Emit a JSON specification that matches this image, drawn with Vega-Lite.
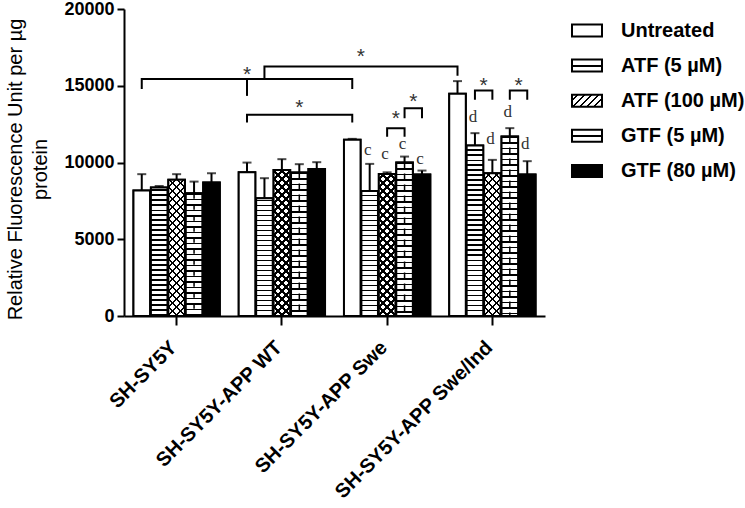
{
 "$schema": "https://vega.github.io/schema/vega-lite/v6.json",
 "width": 421, "height": 307,
 "autosize": {"type": "none"},
 "padding": {"left": 124, "top": 9, "right": 200, "bottom": 192},
 "background": "white",
 "config": {"view": {"stroke": null}},
 "params": [{"name": "st", "value": [
{"offset":0,"color":"#000"},{"offset":0.0075,"color":"#000"},{"offset":0.0075,"color":"#0000"},{"offset":0.025,"color":"#0000"},
{"offset":0.025,"color":"#000"},{"offset":0.0325,"color":"#000"},{"offset":0.0325,"color":"#0000"},{"offset":0.05,"color":"#0000"},
{"offset":0.05,"color":"#000"},{"offset":0.0575,"color":"#000"},{"offset":0.0575,"color":"#0000"},{"offset":0.075,"color":"#0000"},
{"offset":0.075,"color":"#000"},{"offset":0.0825,"color":"#000"},{"offset":0.0825,"color":"#0000"},{"offset":0.1,"color":"#0000"},
{"offset":0.1,"color":"#000"},{"offset":0.1075,"color":"#000"},{"offset":0.1075,"color":"#0000"},{"offset":0.125,"color":"#0000"},
{"offset":0.125,"color":"#000"},{"offset":0.1325,"color":"#000"},{"offset":0.1325,"color":"#0000"},{"offset":0.15,"color":"#0000"},
{"offset":0.15,"color":"#000"},{"offset":0.1575,"color":"#000"},{"offset":0.1575,"color":"#0000"},{"offset":0.175,"color":"#0000"},
{"offset":0.175,"color":"#000"},{"offset":0.1825,"color":"#000"},{"offset":0.1825,"color":"#0000"},{"offset":0.2,"color":"#0000"},
{"offset":0.2,"color":"#000"},{"offset":0.2075,"color":"#000"},{"offset":0.2075,"color":"#0000"},{"offset":0.225,"color":"#0000"},
{"offset":0.225,"color":"#000"},{"offset":0.2325,"color":"#000"},{"offset":0.2325,"color":"#0000"},{"offset":0.25,"color":"#0000"},
{"offset":0.25,"color":"#000"},{"offset":0.2575,"color":"#000"},{"offset":0.2575,"color":"#0000"},{"offset":0.275,"color":"#0000"},
{"offset":0.275,"color":"#000"},{"offset":0.2825,"color":"#000"},{"offset":0.2825,"color":"#0000"},{"offset":0.3,"color":"#0000"},
{"offset":0.3,"color":"#000"},{"offset":0.3075,"color":"#000"},{"offset":0.3075,"color":"#0000"},{"offset":0.325,"color":"#0000"},
{"offset":0.325,"color":"#000"},{"offset":0.3325,"color":"#000"},{"offset":0.3325,"color":"#0000"},{"offset":0.35,"color":"#0000"},
{"offset":0.35,"color":"#000"},{"offset":0.3575,"color":"#000"},{"offset":0.3575,"color":"#0000"},{"offset":0.375,"color":"#0000"},
{"offset":0.375,"color":"#000"},{"offset":0.3825,"color":"#000"},{"offset":0.3825,"color":"#0000"},{"offset":0.4,"color":"#0000"},
{"offset":0.4,"color":"#000"},{"offset":0.4075,"color":"#000"},{"offset":0.4075,"color":"#0000"},{"offset":0.425,"color":"#0000"},
{"offset":0.425,"color":"#000"},{"offset":0.4325,"color":"#000"},{"offset":0.4325,"color":"#0000"},{"offset":0.45,"color":"#0000"},
{"offset":0.45,"color":"#000"},{"offset":0.4575,"color":"#000"},{"offset":0.4575,"color":"#0000"},{"offset":0.475,"color":"#0000"},
{"offset":0.475,"color":"#000"},{"offset":0.4825,"color":"#000"},{"offset":0.4825,"color":"#0000"},{"offset":0.5,"color":"#0000"},
{"offset":0.5,"color":"#000"},{"offset":0.5075,"color":"#000"},{"offset":0.5075,"color":"#0000"},{"offset":0.525,"color":"#0000"},
{"offset":0.525,"color":"#000"},{"offset":0.5325,"color":"#000"},{"offset":0.5325,"color":"#0000"},{"offset":0.55,"color":"#0000"},
{"offset":0.55,"color":"#000"},{"offset":0.5575,"color":"#000"},{"offset":0.5575,"color":"#0000"},{"offset":0.575,"color":"#0000"},
{"offset":0.575,"color":"#000"},{"offset":0.5825,"color":"#000"},{"offset":0.5825,"color":"#0000"},{"offset":0.6,"color":"#0000"},
{"offset":0.6,"color":"#000"},{"offset":0.6075,"color":"#000"},{"offset":0.6075,"color":"#0000"},{"offset":0.625,"color":"#0000"},
{"offset":0.625,"color":"#000"},{"offset":0.6325,"color":"#000"},{"offset":0.6325,"color":"#0000"},{"offset":0.65,"color":"#0000"},
{"offset":0.65,"color":"#000"},{"offset":0.6575,"color":"#000"},{"offset":0.6575,"color":"#0000"},{"offset":0.675,"color":"#0000"},
{"offset":0.675,"color":"#000"},{"offset":0.6825,"color":"#000"},{"offset":0.6825,"color":"#0000"},{"offset":0.7,"color":"#0000"},
{"offset":0.7,"color":"#000"},{"offset":0.7075,"color":"#000"},{"offset":0.7075,"color":"#0000"},{"offset":0.725,"color":"#0000"},
{"offset":0.725,"color":"#000"},{"offset":0.7325,"color":"#000"},{"offset":0.7325,"color":"#0000"},{"offset":0.75,"color":"#0000"},
{"offset":0.75,"color":"#000"},{"offset":0.7575,"color":"#000"},{"offset":0.7575,"color":"#0000"},{"offset":0.775,"color":"#0000"},
{"offset":0.775,"color":"#000"},{"offset":0.7825,"color":"#000"},{"offset":0.7825,"color":"#0000"},{"offset":0.8,"color":"#0000"},
{"offset":0.8,"color":"#000"},{"offset":0.8075,"color":"#000"},{"offset":0.8075,"color":"#0000"},{"offset":0.825,"color":"#0000"},
{"offset":0.825,"color":"#000"},{"offset":0.8325,"color":"#000"},{"offset":0.8325,"color":"#0000"},{"offset":0.85,"color":"#0000"},
{"offset":0.85,"color":"#000"},{"offset":0.8575,"color":"#000"},{"offset":0.8575,"color":"#0000"},{"offset":0.875,"color":"#0000"},
{"offset":0.875,"color":"#000"},{"offset":0.8825,"color":"#000"},{"offset":0.8825,"color":"#0000"},{"offset":0.9,"color":"#0000"},
{"offset":0.9,"color":"#000"},{"offset":0.9075,"color":"#000"},{"offset":0.9075,"color":"#0000"},{"offset":0.925,"color":"#0000"},
{"offset":0.925,"color":"#000"},{"offset":0.9325,"color":"#000"},{"offset":0.9325,"color":"#0000"},{"offset":0.95,"color":"#0000"},
{"offset":0.95,"color":"#000"},{"offset":0.9575,"color":"#000"},{"offset":0.9575,"color":"#0000"},{"offset":0.975,"color":"#0000"},
{"offset":0.975,"color":"#000"},{"offset":0.9825,"color":"#000"},{"offset":0.9825,"color":"#0000"},{"offset":1,"color":"#0000"}
 ]}],
 "datasets": {
  "bars": [
   {"group":"SH-SY5Y","treatment":"Untreated","rfu":8170,"hi":9240},
   {"group":"SH-SY5Y","treatment":"ATF (5 µM)","rfu":8365,"hi":8470},
   {"group":"SH-SY5Y","treatment":"ATF (100 µM)","rfu":8870,"hi":9240},
   {"group":"SH-SY5Y","treatment":"GTF (5 µM)","rfu":8000,"hi":8756},
   {"group":"SH-SY5Y","treatment":"GTF (80 µM)","rfu":8690,"hi":9300},
   {"group":"SH-SY5Y-APP WT","treatment":"Untreated","rfu":9370,"hi":9995},
   {"group":"SH-SY5Y-APP WT","treatment":"ATF (5 µM)","rfu":7674,"hi":8978},
   {"group":"SH-SY5Y-APP WT","treatment":"ATF (100 µM)","rfu":9519,"hi":10217},
   {"group":"SH-SY5Y-APP WT","treatment":"GTF (5 µM)","rfu":9343,"hi":9891},
   {"group":"SH-SY5Y-APP WT","treatment":"GTF (80 µM)","rfu":9584,"hi":10021},
   {"group":"SH-SY5Y-APP Swe","treatment":"Untreated","rfu":11475,"hi":11540},
   {"group":"SH-SY5Y-APP Swe","treatment":"ATF (5 µM)","rfu":8150,"hi":9910},
   {"group":"SH-SY5Y-APP Swe","treatment":"ATF (100 µM)","rfu":9258,"hi":9360},
   {"group":"SH-SY5Y-APP Swe","treatment":"GTF (5 µM)","rfu":9995,"hi":10386},
   {"group":"SH-SY5Y-APP Swe","treatment":"GTF (80 µM)","rfu":9213,"hi":9474},
   {"group":"SH-SY5Y-APP Swe/Ind","treatment":"Untreated","rfu":14474,"hi":15302},
   {"group":"SH-SY5Y-APP Swe/Ind","treatment":"ATF (5 µM)","rfu":11104,"hi":11912},
   {"group":"SH-SY5Y-APP Swe/Ind","treatment":"ATF (100 µM)","rfu":9304,"hi":10171},
   {"group":"SH-SY5Y-APP Swe/Ind","treatment":"GTF (5 µM)","rfu":11690,"hi":12238},
   {"group":"SH-SY5Y-APP Swe/Ind","treatment":"GTF (80 µM)","rfu":9213,"hi":10087}
  ],
  "brackets": [
   {"id":"b1","group":"SH-SY5Y","treatment":"Untreated","rfu":14781,"ord":1},
   {"id":"b1","group":"SH-SY5Y","treatment":"Untreated","rfu":15433,"ord":2},
   {"id":"b1","group":"SH-SY5Y-APP Swe","treatment":"Untreated","rfu":15433,"ord":3},
   {"id":"b1","group":"SH-SY5Y-APP Swe","treatment":"Untreated","rfu":14781,"ord":4},
   {"id":"b1m","group":"SH-SY5Y-APP WT","treatment":"Untreated","rfu":15433,"ord":1},
   {"id":"b1m","group":"SH-SY5Y-APP WT","treatment":"Untreated","rfu":14340,"ord":2},
   {"id":"b2","group":"SH-SY5Y-APP WT","treatment":"Untreated","rfu":12603,"ord":1},
   {"id":"b2","group":"SH-SY5Y-APP WT","treatment":"Untreated","rfu":13105,"ord":2},
   {"id":"b2","group":"SH-SY5Y-APP Swe","treatment":"Untreated","rfu":13105,"ord":3},
   {"id":"b2","group":"SH-SY5Y-APP Swe","treatment":"Untreated","rfu":12603,"ord":4},
   {"id":"b3","group":"SH-SY5Y-APP WT","treatment":"ATF (5 µM)","rfu":15433,"ord":1},
   {"id":"b3","group":"SH-SY5Y-APP WT","treatment":"ATF (5 µM)","rfu":16254,"ord":2},
   {"id":"b3","group":"SH-SY5Y-APP Swe/Ind","treatment":"Untreated","rfu":16254,"ord":3},
   {"id":"b3","group":"SH-SY5Y-APP Swe/Ind","treatment":"Untreated","rfu":15648,"ord":4},
   {"id":"b4","group":"SH-SY5Y-APP Swe","treatment":"ATF (100 µM)","rfu":11670,"ord":1},
   {"id":"b4","group":"SH-SY5Y-APP Swe","treatment":"ATF (100 µM)","rfu":12238,"ord":2},
   {"id":"b4","group":"SH-SY5Y-APP Swe","treatment":"GTF (5 µM)","rfu":12238,"ord":3},
   {"id":"b4","group":"SH-SY5Y-APP Swe","treatment":"GTF (5 µM)","rfu":11670,"ord":4},
   {"id":"b5","group":"SH-SY5Y-APP Swe","treatment":"GTF (5 µM)","rfu":12890,"ord":1},
   {"id":"b5","group":"SH-SY5Y-APP Swe","treatment":"GTF (5 µM)","rfu":13542,"ord":2},
   {"id":"b5","group":"SH-SY5Y-APP Swe","treatment":"GTF (80 µM)","rfu":13542,"ord":3},
   {"id":"b5","group":"SH-SY5Y-APP Swe","treatment":"GTF (80 µM)","rfu":12890,"ord":4},
   {"id":"b6","group":"SH-SY5Y-APP Swe/Ind","treatment":"ATF (5 µM)","rfu":14083,"ord":1},
   {"id":"b6","group":"SH-SY5Y-APP Swe/Ind","treatment":"ATF (5 µM)","rfu":14690,"ord":2},
   {"id":"b6","group":"SH-SY5Y-APP Swe/Ind","treatment":"ATF (100 µM)","rfu":14690,"ord":3},
   {"id":"b6","group":"SH-SY5Y-APP Swe/Ind","treatment":"ATF (100 µM)","rfu":14083,"ord":4},
   {"id":"b7","group":"SH-SY5Y-APP Swe/Ind","treatment":"GTF (5 µM)","rfu":14083,"ord":1},
   {"id":"b7","group":"SH-SY5Y-APP Swe/Ind","treatment":"GTF (5 µM)","rfu":14690,"ord":2},
   {"id":"b7","group":"SH-SY5Y-APP Swe/Ind","treatment":"GTF (80 µM)","rfu":14690,"ord":3},
   {"id":"b7","group":"SH-SY5Y-APP Swe/Ind","treatment":"GTF (80 µM)","rfu":14083,"ord":4}
  ],
  "stars": [
   {"group":"SH-SY5Y-APP WT","treatment":"Untreated","rfu":16040,"between":false,"sig":"*"},
   {"group":"SH-SY5Y-APP WT","treatment":"GTF (5 µM)","rfu":13888,"between":false,"sig":"*"},
   {"group":"SH-SY5Y-APP Swe","treatment":"Untreated","rfu":17213,"between":true,"sig":"*"},
   {"group":"SH-SY5Y-APP Swe","treatment":"ATF (100 µM)","rfu":13150,"between":true,"sig":"*"},
   {"group":"SH-SY5Y-APP Swe","treatment":"GTF (5 µM)","rfu":14298,"between":true,"sig":"*"},
   {"group":"SH-SY5Y-APP Swe/Ind","treatment":"ATF (5 µM)","rfu":15322,"between":true,"sig":"*"},
   {"group":"SH-SY5Y-APP Swe/Ind","treatment":"GTF (5 µM)","rfu":15322,"between":true,"sig":"*"}
  ],
  "letters": [
   {"group":"SH-SY5Y-APP Swe","treatment":"ATF (5 µM)","rfu":10823,"letter":"c"},
   {"group":"SH-SY5Y-APP Swe","treatment":"ATF (100 µM)","rfu":10562,"letter":"c"},
   {"group":"SH-SY5Y-APP Swe","treatment":"GTF (5 µM)","rfu":11214,"letter":"c"},
   {"group":"SH-SY5Y-APP Swe","treatment":"GTF (80 µM)","rfu":10236,"letter":"c"},
   {"group":"SH-SY5Y-APP Swe/Ind","treatment":"ATF (5 µM)","rfu":12975,"letter":"d"},
   {"group":"SH-SY5Y-APP Swe/Ind","treatment":"ATF (100 µM)","rfu":11540,"letter":"d"},
   {"group":"SH-SY5Y-APP Swe/Ind","treatment":"GTF (5 µM)","rfu":13320,"letter":"d"},
   {"group":"SH-SY5Y-APP Swe/Ind","treatment":"GTF (80 µM)","rfu":11214,"letter":"d"}
  ]
 },
 "encoding": {
  "x": {"field": "group", "type": "nominal",
   "scale": {"domain": ["SH-SY5Y","SH-SY5Y-APP WT","SH-SY5Y-APP Swe","SH-SY5Y-APP Swe/Ind"], "paddingInner": 0.18, "paddingOuter": 0.09},
   "axis": {"title": null, "labelAngle": -45, "labelFontSize": 20, "labelFontWeight": "bold", "labelFont": "Liberation Sans", "labelColor": "black", "domainColor": "black", "domainWidth": 2, "tickColor": "black", "tickWidth": 2, "tickSize": 9, "labelPadding": 12, "labelOffset": -10, "labelLimit": 400}},
  "xOffset": {"field": "treatment", "type": "nominal",
   "scale": {"domain": ["Untreated","ATF (5 µM)","ATF (100 µM)","GTF (5 µM)","GTF (80 µM)"], "paddingInner": 0.05}}
 },
 "layer": [
  {"data": {"name": "bars"},
   "mark": {"type": "bar", "stroke": "black", "strokeWidth": 2},
   "encoding": {
    "y": {"field": "rfu", "type": "quantitative", "scale": {"domain": [0, 20000], "nice": false},
     "axis": {"values": [0,5000,10000,15000,20000], "grid": false, "format": "d",
      "title": ["Relative Fluorescence Unit per µg", "protein"],
      "titleFont": "Liberation Sans", "titleFontSize": 20, "titleFontWeight": "normal", "titleColor": "black",
      "titleAngle": -90, "titleX": -119, "titleY": 160, "titleBaseline": "top", "titleAlign": "center", "titleLineHeight": 25,
      "labelFont": "Liberation Sans", "labelFontSize": 18, "labelFontWeight": "bold", "labelColor": "black", "labelPadding": 3,
      "tickSize": 7, "tickWidth": 2, "tickColor": "black", "domainWidth": 2, "domainColor": "black"}},
    "fill": {"field": "treatment", "type": "nominal",
     "scale": {"domain": ["Untreated","ATF (5 µM)","ATF (100 µM)","GTF (5 µM)","GTF (80 µM)"],
      "range": ["white",
       {"expr": "{gradient: 'linear', x1: 0, y1: 0, x2: 0, y2: 1, stops: [{offset: 0, color: 'white'}, {offset: 0.42, color: 'white'}, {offset: 0.42, color: 'black'}, {offset: 0.58, color: 'black'}, {offset: 0.58, color: 'white'}, {offset: 1, color: 'white'}]}"},
       {"expr": "{gradient: 'linear', x1: 0, y1: 0, x2: 1, y2: 0.4, stops: [{offset: 0, color: 'white'}, {offset: 0.14, color: 'white'}, {offset: 0.14, color: 'black'}, {offset: 0.2, color: 'black'}, {offset: 0.2, color: 'white'}, {offset: 0.34, color: 'white'}, {offset: 0.34, color: 'black'}, {offset: 0.4, color: 'black'}, {offset: 0.4, color: 'white'}, {offset: 0.54, color: 'white'}, {offset: 0.54, color: 'black'}, {offset: 0.6, color: 'black'}, {offset: 0.6, color: 'white'}, {offset: 0.74, color: 'white'}, {offset: 0.74, color: 'black'}, {offset: 0.8, color: 'black'}, {offset: 0.8, color: 'white'}, {offset: 0.93, color: 'white'}, {offset: 0.93, color: 'black'}, {offset: 0.99, color: 'black'}, {offset: 0.99, color: 'white'}, {offset: 1, color: 'white'}]}"},
       {"expr": "{gradient: 'linear', x1: 0, y1: 0, x2: 0, y2: 1, stops: [{offset: 0, color: 'white'}, {offset: 0.42, color: 'white'}, {offset: 0.42, color: 'black'}, {offset: 0.58, color: 'black'}, {offset: 0.58, color: 'white'}, {offset: 1, color: 'white'}]}"},
       "black"]},
     "legend": {"title": null, "orient": "none", "legendX": 445, "legendY": 3.5, "padding": 0,
      "symbolType": "M-0.89,-0.356H0.89V0.356H-0.89Z", "symbolSize": 1136, "symbolStrokeWidth": 2, "symbolStrokeColor": "black",
      "symbolOpacity": 1, "rowPadding": 7.1,
      "labelFont": "Liberation Sans", "labelFontSize": 20, "labelFontWeight": "bold", "labelColor": "black",
      "labelOffset": 16, "labelLimit": 300}}
   }},
  {"data": {"name": "bars"},
   "mark": {"type": "bar"},
   "encoding": {
    "y": {"field": "rfu", "type": "quantitative"},
    "fill": {"condition": {"test": "datum.treatment === 'GTF (80 µM)'", "value": "black"}, "value": "white"}
   }},
  {"data": {"name": "bars"},
   "transform": [{"filter": {"field": "treatment", "equal": "ATF (5 µM)"}}],
   "mark": {"type": "bar", "fill": {"expr": "{gradient: 'linear', x1: 0, y1: 1, x2: 0, y2: 1 - 200/(datum.rfu*0.01535), stops: st}"}},
   "encoding": {"y": {"field": "rfu", "type": "quantitative"}}},
  {"data": {"name": "bars"},
   "transform": [{"filter": {"field": "treatment", "equal": "GTF (5 µM)"}}],
   "mark": {"type": "bar", "fill": {"expr": "{gradient: 'linear', x1: 0, y1: 0, x2: 0, y2: 220/(datum.rfu*0.01535), stops: st}"}},
   "encoding": {"y": {"field": "rfu", "type": "quantitative"}}},
  {"data": {"name": "bars"},
   "transform": [{"filter": {"field": "treatment", "equal": "GTF (5 µM)"}}],
   "mark": {"type": "rule", "strokeWidth": 1.5, "strokeDash": [5.5, 5.5], "color": "black"},
   "encoding": {"y": {"field": "rfu", "type": "quantitative"}, "y2": {"datum": 0}}},
  {"data": {"name": "bars"},
   "transform": [{"filter": {"field": "treatment", "equal": "ATF (100 µM)"}}],
   "mark": {"type": "bar", "fill": {"expr": "{gradient: 'linear', x1: 0, y1: 1, x2: 5302/(274.2+pow(datum.rfu*0.01535,2)), y2: 1 - 4.915*datum.rfu/(274.2+pow(datum.rfu*0.01535,2)), stops: st}"}},
   "encoding": {"y": {"field": "rfu", "type": "quantitative"}}},
  {"data": {"name": "bars"},
   "transform": [{"filter": {"field": "treatment", "equal": "ATF (100 µM)"}}],
   "mark": {"type": "bar", "fill": {"expr": "{gradient: 'linear', x1: 1, y1: 1, x2: 1 - 5302/(274.2+pow(datum.rfu*0.01535,2)), y2: 1 - 4.915*datum.rfu/(274.2+pow(datum.rfu*0.01535,2)), stops: st}"}},
   "encoding": {"y": {"field": "rfu", "type": "quantitative"}}},
  {"data": {"name": "bars"},
   "mark": {"type": "bar", "fillOpacity": 0, "stroke": "black", "strokeWidth": 2},
   "encoding": {"y": {"field": "rfu", "type": "quantitative"}}},
  {"data": {"name": "bars"},
   "mark": {"type": "rule", "strokeWidth": 2, "color": "black"},
   "encoding": {"y": {"field": "rfu", "type": "quantitative"}, "y2": {"field": "hi"}}},
  {"data": {"name": "bars"},
   "mark": {"type": "tick", "thickness": 2, "size": 9, "color": "black"},
   "encoding": {"y": {"field": "hi", "type": "quantitative"}}},
  {"data": {"name": "brackets"},
   "mark": {"type": "line", "strokeWidth": 2, "color": "black"},
   "encoding": {"y": {"field": "rfu", "type": "quantitative"}, "detail": {"field": "id"}, "order": {"field": "ord"}}},
  {"data": {"name": "stars"},
   "transform": [{"filter": "!datum.between"}],
   "mark": {"type": "text", "font": "Liberation Sans", "fontSize": 21, "color": "#333", "baseline": "middle", "dy": 5},
   "encoding": {"y": {"field": "rfu", "type": "quantitative"}, "text": {"field": "sig"}}},
  {"data": {"name": "stars"},
   "transform": [{"filter": "datum.between"}],
   "mark": {"type": "text", "font": "Liberation Sans", "fontSize": 21, "color": "#333", "baseline": "middle", "dy": 5, "dx": 8.7},
   "encoding": {"y": {"field": "rfu", "type": "quantitative"}, "text": {"field": "sig"}}},
  {"data": {"name": "letters"},
   "mark": {"type": "text", "font": "Liberation Serif", "fontSize": 17, "color": "#333", "baseline": "middle", "dx": -2},
   "encoding": {"y": {"field": "rfu", "type": "quantitative"}, "text": {"field": "letter"}}}
 ]
}
